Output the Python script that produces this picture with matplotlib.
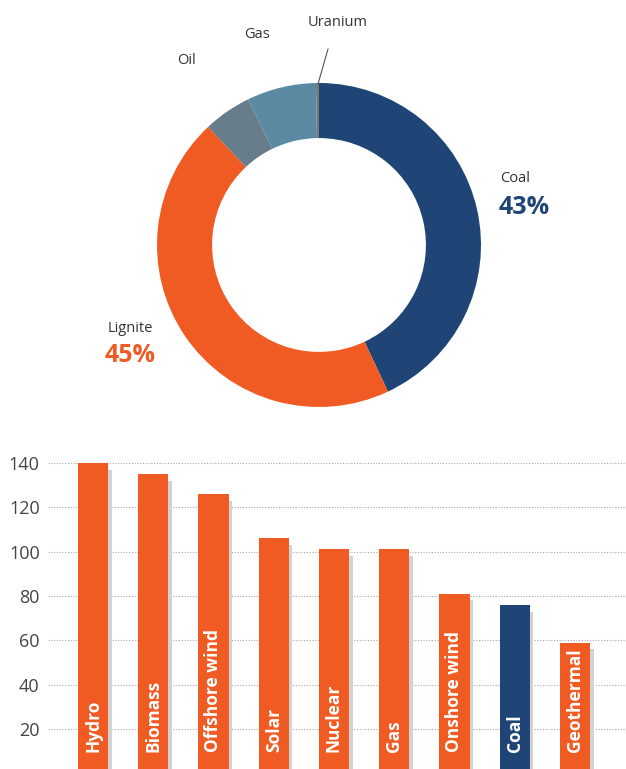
import matplotlib
matplotlib.use("Agg")
import matplotlib.pyplot as plt

plt.rcParams["font.family"] = ["Open Sans", "DejaVu Sans"]

# power mix shares (%), drawn clockwise from 12 o'clock
fuels = ["Coal", "Lignite", "Oil", "Gas", "Uranium"]
shares = [43, 45, 4.8, 6.9, 0.3]
fuel_colors = ["#1f4576", "#f05a23", "#687d8b", "#5c8aa3", "#777777"]

# bar chart
techs = ["Hydro", "Biomass", "Offshore wind", "Solar", "Nuclear",
         "Gas", "Onshore wind", "Coal", "Geothermal"]
values = [140, 135, 126, 106, 101, 101, 81, 76, 59]
bar_colors = ["#f05a23"] * 7 + ["#1f4576", "#f05a23"]
yticks = [20, 40, 60, 80, 100, 120, 140]

W, H = 626, 769
fig = plt.figure(figsize=(W / 100, H / 100), dpi=100)

# ---- donut ----
cx, cy, r = 319, 245, 162
ax = fig.add_axes([(cx - r) / W, 1 - (cy + r) / H, 2 * r / W, 2 * r / H])
ax.pie(shares, colors=fuel_colors, startangle=90, counterclock=False,
       radius=1.0, wedgeprops=dict(width=0.34, linewidth=0))
ax.set_xlim(-1, 1)
ax.set_ylim(-1, 1)
ax.set_aspect("equal")
ax.axis("off")


def px(x, y):
    return (x - cx) / r, (cy - y) / r


txt = "#333333"
ax.text(*px(338, 22), "Uranium", ha="center", va="center", fontsize=10.5,
        color=txt, clip_on=False)
ax.text(*px(257, 35), "Gas", ha="center", va="center", fontsize=10.5,
        color=txt, clip_on=False)
ax.text(*px(186, 60), "Oil", ha="center", va="center", fontsize=10.5,
        color=txt, clip_on=False)
x0, y0 = px(318, 84)
x1, y1 = px(328, 49)
ax.plot([x0, x1], [y0, y1], color="#555555", lw=0.8, clip_on=False)

ax.text(*px(500, 178), "Coal", ha="left", va="center", fontsize=10.5,
        color=txt, clip_on=False)
ax.text(*px(499, 207), f"{shares[0]:.0f}%", ha="left", va="center",
        fontsize=18, fontweight="bold", color=fuel_colors[0], clip_on=False)
ax.text(*px(130, 328), "Lignite", ha="center", va="center", fontsize=10.5,
        color=txt, clip_on=False)
ax.text(*px(130, 356), f"{shares[1]:.0f}%", ha="center", va="center",
        fontsize=18, fontweight="bold", color=fuel_colors[1], clip_on=False)

# ---- bars ----
scale = 266 / 120.0           # px per unit
zero_px = 729 + 20 * scale
ymin = (zero_px - H) / scale
top_px = 452
ymax = (zero_px - top_px) / scale
left_px = 48
step = 60.25
xmin = -(93 - left_px) / step
xmax = 8 + (W - 575) / step

bx = fig.add_axes([left_px / W, 0, 1 - left_px / W, (H - top_px) / H])
xs = list(range(len(techs)))
for y in yticks:
    bx.axhline(y, color="#a8a8a8", lw=0.8, ls=(0, (1, 1.5)), zorder=0)
bx.bar([x + 0.06 for x in xs], [v - 3 for v in values], width=0.5,
       color="#d2d2d2", zorder=1)
bx.bar(xs, values, width=0.5, color=bar_colors, zorder=2)
for x, name in zip(xs, techs):
    bx.text(x, 9.5, name, rotation=90, ha="center", va="bottom",
            color="white", fontsize=12.5, fontweight="bold", zorder=3)

bx.set_xlim(xmin, xmax)
bx.set_ylim(ymin, ymax)
bx.set_yticks(yticks)
bx.set_yticklabels([str(t) for t in yticks], fontsize=13, color="#444444")
bx.tick_params(axis="y", length=0, pad=6)
bx.set_xticks([])
for s in bx.spines.values():
    s.set_visible(False)

fig.savefig("out.png", dpi=100)
